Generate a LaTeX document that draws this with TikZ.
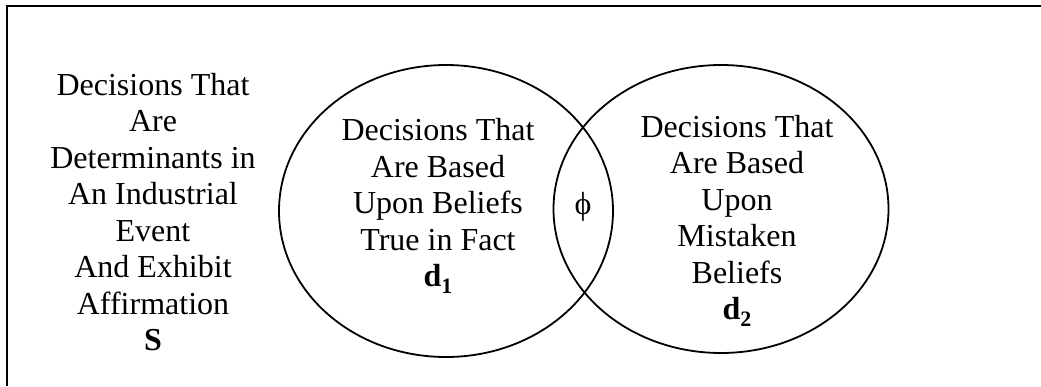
\documentclass[tikz,border=0pt]{standalone}
\usepackage{fontspec}
\setmainfont{Liberation Serif}
\usetikzlibrary{shapes.geometric}
\begin{document}
\begin{tikzpicture}[x=1pt,y=-1pt,
  lbl/.style={align=center,inner sep=0pt,font=\fontsize{32}{36.5}\selectfont},
  setshape/.style={draw,ellipse,line width=1.8pt,inner sep=0pt},
  frameline/.style={line width=2pt}]
\useasboundingbox (0,0) rectangle (1041,386);
\coordinate (tl) at (7,6);
\coordinate (tr) at (1041,6);
\coordinate (bl) at (7,386);
\draw[frameline] (tr) -- (tl) -- (bl);
\node[setshape,minimum width=334pt,minimum height=292pt] (d1) at (446,211) {};
\node[setshape,minimum width=335pt,minimum height=288pt] (d2) at (721,209) {};
\node[lbl] (s) at (153,212) {Decisions That\\Are\\Determinants in\\An Industrial\\Event\\And Exhibit\\Affirmation\\\textbf{S}};
\node[lbl] (t1) at (438,206) {Decisions That\\Are Based\\Upon Beliefs\\True in Fact\\\textbf{d\raisebox{-0.22em}{\fontsize{22}{22}\selectfont 1}}};
\node[lbl] (t2) at (737,221) {Decisions That\\Are Based\\Upon\\Mistaken\\Beliefs\\\textbf{d\raisebox{-0.22em}{\fontsize{22}{22}\selectfont 2}}};
\node[lbl] (phi) at (583,207) {ϕ};
\end{tikzpicture}
\end{document}
